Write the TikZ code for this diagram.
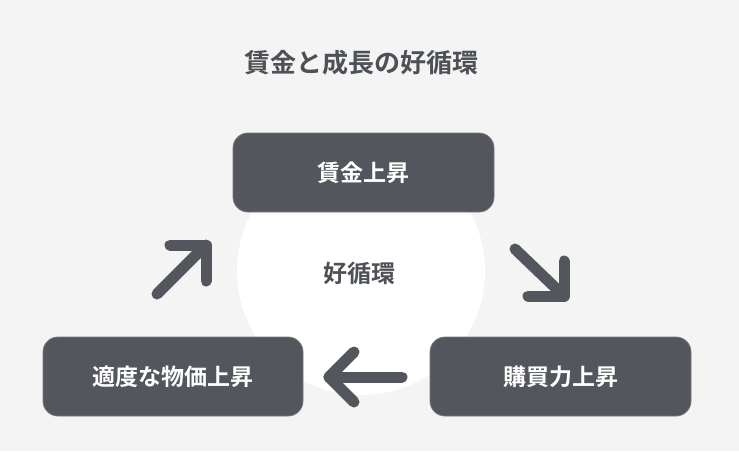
\documentclass[tikz,border=0pt]{standalone}
\usepackage{fontspec}
\setmainfont{Noto Sans CJK JP}[BoldFont={Noto Sans CJK JP Bold}]
\usetikzlibrary{calc}
\definecolor{bgcol}{HTML}{F4F4F4}
\definecolor{boxcol}{HTML}{53575D}
\definecolor{inkcol}{HTML}{4D5156}
\tikzset{
  stagebox/.style={rectangle, rounded corners=15pt, fill=boxcol, draw=boxcol!80!white, line width=0.8pt,
    minimum width=261pt, minimum height=79pt, text=white, font=\fontsize{23pt}{23pt}\selectfont\bfseries},
  cycarrow/.style={draw=boxcol, line width=11pt, line cap=round, line join=round}
}
\begin{document}
\begin{tikzpicture}[x=1pt, y=-1pt]
\fill[bgcol] (0,0) rectangle (739,451);
\useasboundingbox (0,0) rectangle (739,451);
\node[text=inkcol, font=\fontsize{26pt}{26pt}\selectfont\bfseries] (title) at (361,63){賃金と成長の好循環};
\node[circle, fill=white, minimum size=248pt, inner sep=0pt] (loop) at (361,271){};
\node[text=inkcol, font=\fontsize{24pt}{24pt}\selectfont\bfseries] (looptxt) at (359,273){好循環};
\node[stagebox] (wage) at (363.5,172.5){賃金上昇};
\node[stagebox] (buy) at (560.5,376.5){購買力上昇};
\node[stagebox, minimum width=260pt] (price) at (173,376.5){適度な物価上昇};
\coordinate (ur0) at (157,294);
\coordinate (ur1) at (206,245);
\coordinate (dr0) at (515,249);
\coordinate (dr1) at (564,296);
\coordinate (lf0) at (402,377);
\coordinate (lf1) at (329,377);
\draw[cycarrow](ur0) -- (ur1);
\draw[cycarrow]($(ur1)+(-36,0)$) -- (ur1) -- ($(ur1)+(0,36)$);
\draw[cycarrow](dr0) -- (dr1);
\draw[cycarrow]($(dr1)+(-36,0)$) -- (dr1) -- ($(dr1)+(0,-35)$);
\draw[cycarrow](lf0) -- (lf1);
\draw[cycarrow]($(lf1)+(25,-25)$) -- (lf1) -- ($(lf1)+(25,25)$);
\end{tikzpicture}
\end{document}
